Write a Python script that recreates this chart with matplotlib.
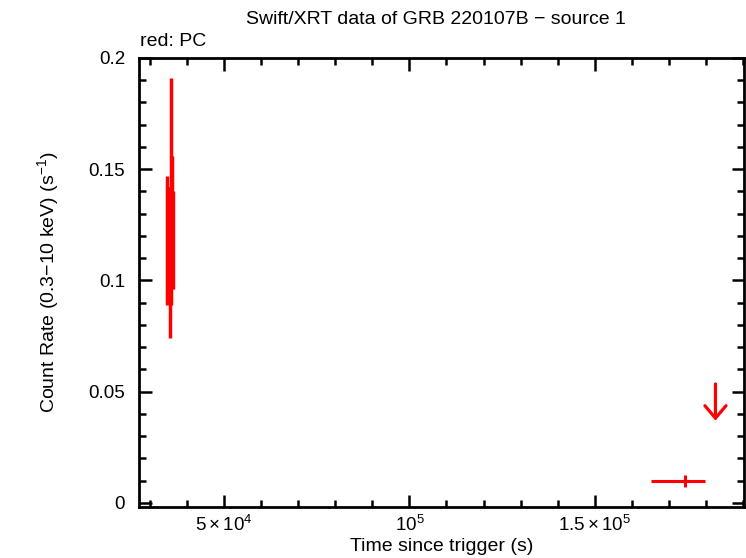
import numpy as np
import matplotlib
matplotlib.use("Agg")
import matplotlib.pyplot as plt
from matplotlib.ticker import FixedLocator, MultipleLocator, FuncFormatter

plt.rcParams['font.family'] = ['Liberation Sans', 'DejaVu Sans']
plt.rcParams['mathtext.fontset'] = 'custom'
plt.rcParams['mathtext.rm'] = 'Liberation Sans'
plt.rcParams['mathtext.it'] = 'Liberation Sans'

# PC mode points (time, rate, time err, rate err)
pc_t = [34600, 35000, 35400, 35700, 36000, 36300]
pc_y = [0.118, 0.117, 0.108, 0.140, 0.126, 0.118]
pc_terr = [150, 150, 150, 150, 150, 150]
pc_yerr = [0.029, 0.025, 0.034, 0.051, 0.030, 0.022]

# late detection
late_t = [174300]
late_y = [0.0099]
late_tlo = [9200]
late_thi = [5400]
late_yerr = [0.0028]

# upper limit
ul_t = [182600]
ul_y = [0.0535]

fig = plt.figure(figsize=(7.46, 5.58), dpi=100)
ax = fig.add_axes([0.1863, 0.0914, 0.811, 0.8047])

ax.errorbar(pc_t, pc_y, xerr=pc_terr, yerr=pc_yerr, fmt='none',
            ecolor='red', elinewidth=2.5, capsize=0)
ax.errorbar(late_t, late_y, xerr=[late_tlo, late_thi], yerr=late_yerr,
            fmt='none', ecolor='red', elinewidth=2.2, capsize=0)
for t, y in zip(ul_t, ul_y):
    ax.annotate('', xy=(t, y - 0.0165), xytext=(t, y),
                arrowprops=dict(arrowstyle='->,head_length=0.45,head_width=0.38',
                                color='red', lw=2.3,
                                mutation_scale=20, shrinkA=0, shrinkB=0))

ax.set_xlim(27000, 190300)
ax.set_ylim(-0.0018, 0.2)

ax.xaxis.set_major_locator(FixedLocator([5e4, 1e5, 1.5e5]))
ax.xaxis.set_minor_locator(MultipleLocator(1e4))
labels = {5e4: r'$5\times10^4$', 1e5: r'$10^5$', 1.5e5: r'$1.5\times10^5$'}
ax.xaxis.set_major_formatter(FuncFormatter(lambda v, p: labels.get(v, '')))
ax.yaxis.set_major_locator(MultipleLocator(0.05))
ax.yaxis.set_minor_locator(MultipleLocator(0.01))
ax.yaxis.set_major_formatter(FuncFormatter(lambda v, p: '0' if abs(v) < 1e-9 else f'{v:g}'))

ax.tick_params(which='both', direction='in', top=True, right=True,
               labelsize=13.5, width=1.8)
ax.tick_params(axis='y', which='major', length=9, pad=10)
ax.tick_params(axis='x', which='major', length=9, pad=6)
ax.tick_params(which='minor', length=5)
for s in ax.spines.values():
    s.set_linewidth(2)

ax.set_xlabel('Time since trigger (s)', fontsize=14, labelpad=2)
ax.set_ylabel(r'Count Rate (0.3$-$10 keV) (s$^{-1}$)', fontsize=14, labelpad=20)
fig.text(0.585, 0.965, 'Swift/XRT data of GRB 220107B \u2212 source 1',
         ha='center', va='center', fontsize=14)
fig.text(0.187, 0.925, 'red: PC', ha='left', va='center', fontsize=14)

fig.savefig('out.png', dpi=100)
